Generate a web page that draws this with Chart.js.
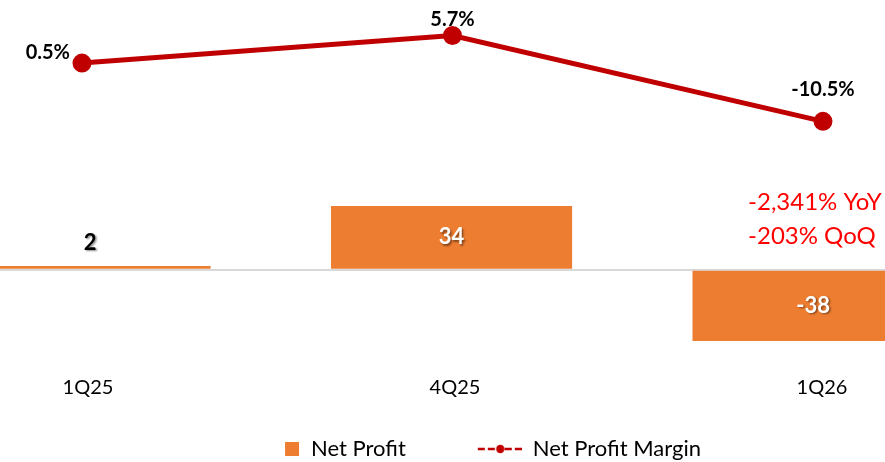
<!DOCTYPE html>
<html>
<head>
<meta charset="utf-8">
<script src="https://cdn.jsdelivr.net/npm/chart.js@4.4.1/dist/chart.umd.min.js"></script>
<style>
  html, body { margin: 0; padding: 0; background: #fff; }
  #wrap { width: 885px; height: 462px; }
</style>
</head>
<body>
<div id="wrap"><canvas id="chart" width="885" height="462"></canvas></div>
<script>
// =========================
// DATA
// =========================

const quarters = ['1Q25', '4Q25', '1Q26'];

const netProfit = [2, 34, -38];

const netProfitMargin = [0.5, 5.7, -10.5];

const profitNotes = ['-2,341% YoY', '-203% QoQ'];


// =========================
// STYLE
// =========================

const ORANGE = '#ED7D31';
const RED = '#C00000';
const FONT = 'Lato, "Open Sans", sans-serif';

// legend swatches drawn on small canvases, used as point styles
function swatch(draw) {
  const c = document.createElement('canvas');
  c.width = 116;
  c.height = 22;
  draw(c.getContext('2d'));
  return c;
}

const barSwatch = swatch(g => {
  g.fillStyle = ORANGE;
  g.fillRect(101, 4, 14, 14);
});

const lineSwatch = swatch(g => {
  g.strokeStyle = RED;
  g.lineWidth = 2.5;
  g.setLineDash([7, 3]);
  g.beginPath();
  g.moveTo(72, 11); g.lineTo(90, 11);
  g.moveTo(99, 11); g.lineTo(117, 11);
  g.stroke();
  g.setLineDash([]);
  g.fillStyle = RED;
  g.beginPath();
  g.arc(94.5, 11, 4.2, 0, Math.PI * 2);
  g.fill();
});

// only the three quarters as ticks
const quarterTicks = s => { s.ticks = quarters.map((q, i) => ({ value: i })); };


// =========================
// LABELS PLUGIN
// =========================

const valueLabels = {
  id: 'valueLabels',
  afterDatasetsDraw(chart, args, opts) {
    const ctx = chart.ctx;
    const zero = chart.scales.y.getPixelForValue(0);

    // bar values
    const bars = chart.getDatasetMeta(1).data;
    bars.forEach((bar, i) => {
      const small = Math.abs(bar.y - bar.base) < 30;
      const y = small ? zero - 27 : (bar.y + bar.base) / 2;
      ctx.save();
      ctx.font = `bold 22px ${FONT}`;
      ctx.textAlign = 'center';
      ctx.textBaseline = 'middle';
      ctx.shadowColor = 'rgba(0,0,0,0.45)';
      ctx.shadowOffsetX = 1.5;
      ctx.shadowOffsetY = 1.5;
      ctx.shadowBlur = 2;
      ctx.fillStyle = small ? '#000' : '#fff';
      ctx.fillText(String(netProfit[i]), bar.x, y);
      ctx.restore();
    });

    // margin values
    const points = chart.getDatasetMeta(0).data;
    points.forEach((pt, i) => {
      const off = opts.lineOffsets[i];
      ctx.save();
      ctx.font = `bold 20px ${FONT}`;
      ctx.textAlign = off.align;
      ctx.textBaseline = 'middle';
      ctx.fillStyle = '#000';
      ctx.fillText(netProfitMargin[i].toFixed(1) + '%', pt.x + off.dx, pt.y + off.dy);
      ctx.restore();
    });

    // growth note above last bar
    const last = bars[bars.length - 1];
    ctx.save();
    ctx.font = `24px ${FONT}`;
    ctx.textAlign = 'left';
    ctx.textBaseline = 'middle';
    ctx.fillStyle = '#FF0000';
    profitNotes.forEach((t, k) => {
      ctx.fillText(t, last.x - 65, zero - 67 + k * 34);
    });
    ctx.restore();
  }
};


// =========================
// CHART
// =========================

new Chart(document.getElementById('chart'), {

  type: 'bar',

  data: {
    datasets: [
      {
        type: 'line',
        label: 'Net Profit Margin',
        data: netProfitMargin.map((v, i) => ({ x: i, y: v })),
        xAxisID: 'xLine',
        yAxisID: 'yLine',
        borderColor: RED,
        borderWidth: 5,
        pointRadius: 7,
        pointBackgroundColor: RED,
        pointBorderColor: RED,
        tension: 0,
        fill: false
      },
      {
        type: 'bar',
        label: 'Net Profit',
        data: netProfit.map((v, i) => ({ x: i, y: v })),
        xAxisID: 'xBar',
        yAxisID: 'y',
        backgroundColor: ORANGE,
        grouped: false,
        barPercentage: 0.667,
        categoryPercentage: 1
      }
    ]
  },

  options: {
    responsive: false,
    animation: false,
    layout: { padding: { top: 0, left: 0, right: 0, bottom: -8 }, autoPadding: false },

    plugins: {
      tooltip: { enabled: false },
      legend: {
        position: 'bottom',
        labels: {
          usePointStyle: true,
          pointStyleWidth: 116,
          padding: 0,
          color: '#000',
          font: { family: FONT, size: 22 },
          generateLabels: chart => [
            { text: 'Net Profit', pointStyle: barSwatch, datasetIndex: 1, lineWidth: 0, hidden: false },
            { text: 'Net Profit Margin', pointStyle: lineSwatch, datasetIndex: 0, lineWidth: 0, hidden: false }
          ]
        }
      },
      valueLabels: {
        lineOffsets: [
          { dx: -12, dy: -11, align: 'right' },
          { dx: 0, dy: -16, align: 'center' },
          { dx: 0, dy: -32, align: 'center' }
        ]
      }
    },

    scales: {
      x: {
        type: 'linear',
        position: 'bottom',
        offset: false,
        min: -0.2398,
        max: 2.1717,
        afterBuildTicks: quarterTicks,
        afterFit: s => { s.height = 80; },
        ticks: {
          callback: v => quarters[v],
          color: '#000',
          font: { family: FONT, size: 20 },
          padding: 10,
          autoSkip: false,
          maxRotation: 0
        },
        grid: { display: false, offset: false },
        border: { display: false }
      },
      xBar: {
        type: 'linear', display: false, offset: false,
        grid: { offset: false },
        min: -0.249, max: 2.199,
        afterBuildTicks: quarterTicks
      },
      xLine: {
        type: 'linear', display: false, offset: false,
        grid: { offset: false },
        min: -0.2213, max: 2.1674,
        afterBuildTicks: quarterTicks
      },
      y: {
        beginAtZero: false,
        min: -47.06,
        max: 143.85,
        afterBuildTicks: s => { s.ticks = [{ value: 0 }]; },
        ticks: { display: false },
        grid: { color: '#D9D9D9', lineWidth: 2, drawTicks: false },
        border: { display: false }
      },
      yLine: { display: false, beginAtZero: false, min: -55.19, max: 12.42 }
    }
  },

  plugins: [valueLabels]
});
</script>
</body>
</html>
